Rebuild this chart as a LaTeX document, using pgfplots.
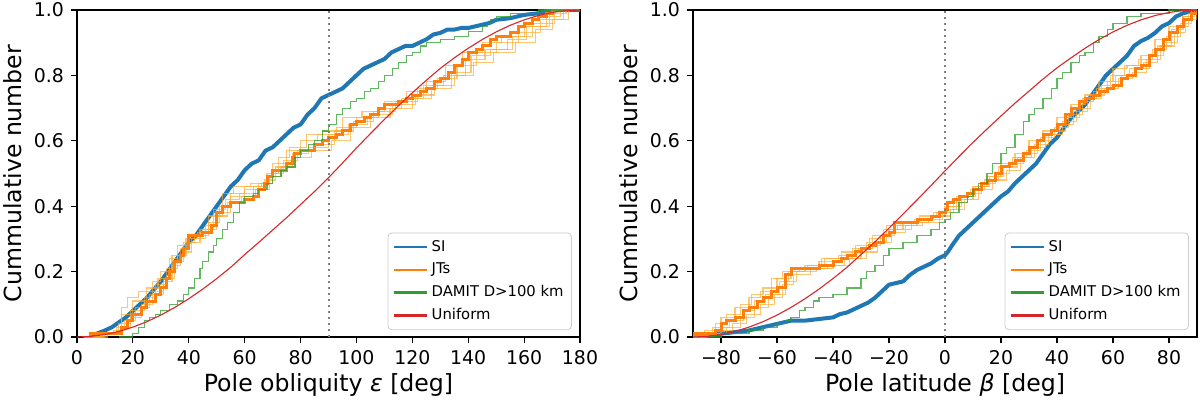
\documentclass[border=0pt]{standalone}
\usepackage{fontspec}
\setmainfont{DejaVu Sans}
\usepackage{pgfplots}
\pgfplotsset{compat=1.18}
\definecolor{tabblue}{HTML}{1F77B4}
\definecolor{taborange}{HTML}{FF7F0E}
\definecolor{thinorange}{HTML}{FFA726}
\definecolor{tabgreen}{HTML}{2CA02C}
\definecolor{tabred}{HTML}{D62728}
\pgfplotsset{
  cdf/.style={
    scale only axis, height=163.5pt,
    ymin=0, ymax=1,
    ytick={0,0.2,0.4,0.6,0.8,1}, yticklabels={0.0,0.2,0.4,0.6,0.8,1.0},
    xtick pos=lower, ytick pos=left,
    tick align=outside, major tick length=3pt,
    tick style={black, line width=0.6pt},
    axis line style={line width=0.6pt},
    ticklabel style={font=\fontsize{9.45}{11}\selectfont},
    xlabel style={font=\fontsize{11.8}{14}\selectfont, at={(axis description cs:0.5,-0.147)}, anchor=center},
    ylabel style={font=\fontsize{11.8}{14}\selectfont, at={(axis description cs:-0.127,0.5)}, anchor=center, rotate=0},
    ylabel={Cummulative number},
    legend cell align=left,
    legend style={at={(axis description cs:0.984,0.021)}, anchor=south east,
      draw=black!20, rounded corners=2pt, fill=white, fill opacity=0.8, text opacity=1,
      font=\fontsize{7.4}{9}\selectfont, row sep=1.2pt, inner xsep=2.5pt, inner ysep=2pt,
      nodes={inner sep=1.5pt, text height=5.6pt, text depth=1.6pt}},
    legend image code/.code={\draw[#1] (0pt,0pt) -- (16.5pt,0pt);},
  },
  si/.style={tabblue, line width=2pt, line join=round, forget plot},
  jt/.style={taborange, line width=1.5pt, const plot, forget plot},
  jtv/.style={thinorange, draw opacity=0.65, line width=0.55pt, const plot, forget plot},
  dam/.style={tabgreen, draw opacity=0.75, line width=0.55pt, const plot, forget plot},
  uni/.style={tabred, line width=0.55pt, forget plot},
  legentries/.code={
    \addlegendimage{tabblue, line width=1.35pt}\addlegendentry{SI}
    \addlegendimage{taborange, line width=1.35pt}\addlegendentry{JTs}
    \addlegendimage{tabgreen, line width=1.35pt}\addlegendentry{DAMIT D>100 km}
    \addlegendimage{tabred, line width=1.35pt}\addlegendentry{Uniform}
  },
}
\begin{document}
\begin{tikzpicture}
%% ---------------- left panel ----------------
\begin{axis}[cdf, at={(38.5pt,32.5pt)}, anchor=south west, width=251.5pt,
  xmin=0, xmax=180, xtick={0,20,40,60,80,100,120,140,160,180},
  xticklabels={0,20,40,60,80,100,120,140,160,180},
  xlabel={Pole obliquity \textit{ε} [deg]}]
\addlegendimage{tabblue, line width=1.35pt}\addlegendentry{SI}
\addlegendimage{taborange, line width=1.35pt}\addlegendentry{JTs}
\addlegendimage{tabgreen, line width=1.35pt}\addlegendentry{DAMIT D>100 km}
\addlegendimage{tabred, line width=1.35pt}\addlegendentry{Uniform}
\addplot[si] coordinates {(5,0) (7,0.01) (10,0.02) (12.5,0.03) (15,0.045) (17.5,0.06) (20,0.08) (22.5,0.10) (25,0.12) (27.5,0.145) (30,0.17) (32.5,0.20) (35,0.23) (37.5,0.26) (40,0.29) (42.5,0.31) (45,0.34) (47.5,0.37) (50,0.40) (52.5,0.43) (55,0.46) (57.5,0.48) (60,0.51) (62.5,0.53) (65,0.54) (67.5,0.57) (70,0.58) (72.5,0.60) (75,0.62) (77.5,0.64) (80,0.65) (82.5,0.68) (85,0.70) (87.5,0.73) (90,0.74) (92.5,0.75) (95,0.76) (97.5,0.78) (100,0.80) (102.5,0.82) (105,0.83) (107.5,0.84) (110,0.85) (112.5,0.87) (115,0.88) (117.5,0.89) (120,0.89) (122.5,0.90) (125,0.91) (127.5,0.925) (130,0.93) (132.5,0.94) (135,0.94) (137.5,0.945) (140,0.945) (142.5,0.95) (145,0.955) (147.5,0.96) (150,0.97) (155,0.975) (160,0.985) (165,0.99) (170,1.0) (180,1.0)};
\addplot[jtv] coordinates {(3,0) (8,0.01) (14,0.03) (16,0.09) (18,0.12) (22,0.14) (27,0.17) (30,0.20) (34,0.25) (38,0.29) (42,0.31) (47,0.37) (52,0.44) (56,0.46) (62,0.47) (68,0.50) (72,0.55) (76,0.58) (82,0.62) (88,0.63) (95,0.67) (102,0.69) (110,0.72) (118,0.75) (125,0.78) (132,0.83) (138,0.87) (145,0.90) (152,0.92) (160,0.95) (168,0.98) (173,1.0) (180,1.0)};
\addplot[jtv] coordinates {(4,0) (10,0.01) (15,0.02) (17,0.05) (21,0.09) (26,0.13) (31,0.17) (34,0.22) (37,0.27) (40,0.29) (44,0.33) (49,0.39) (53,0.42) (58,0.44) (63,0.46) (67,0.48) (71,0.52) (77,0.56) (83,0.58) (90,0.62) (97,0.65) (104,0.67) (112,0.70) (120,0.73) (127,0.76) (134,0.81) (141,0.86) (148,0.88) (156,0.92) (163,0.96) (171,1.0) (180,1.0)};
\addplot[jtv] coordinates {(2,0) (7,0.01) (13,0.02) (15,0.04) (19,0.08) (24,0.12) (28,0.16) (32,0.21) (36,0.25) (39,0.30) (43,0.32) (47,0.35) (51,0.40) (55,0.44) (60,0.45) (65,0.47) (70,0.50) (74,0.54) (79,0.57) (85,0.59) (92,0.63) (99,0.66) (106,0.69) (114,0.72) (122,0.76) (129,0.79) (136,0.83) (143,0.87) (150,0.90) (158,0.93) (166,0.97) (174,1.0) (180,1.0)};
\addplot[jtv] coordinates {(5,0) (11,0.01) (16,0.03) (19,0.06) (23,0.10) (27,0.14) (31,0.18) (35,0.23) (38,0.26) (41,0.30) (46,0.34) (50,0.37) (54,0.41) (59,0.43) (64,0.45) (69,0.49) (73,0.52) (78,0.55) (84,0.57) (91,0.60) (98,0.64) (105,0.68) (113,0.71) (121,0.74) (128,0.77) (135,0.80) (142,0.84) (149,0.87) (157,0.90) (164,0.94) (170,0.97) (176,1.0) (180,1.0)};
\addplot[jtv] coordinates {(3,0) (9,0.01) (14,0.02) (16,0.07) (20,0.11) (25,0.15) (29,0.18) (33,0.24) (36,0.28) (40,0.31) (45,0.33) (50,0.38) (55,0.43) (60,0.46) (66,0.47) (70,0.53) (75,0.57) (80,0.60) (86,0.62) (93,0.64) (100,0.67) (108,0.70) (116,0.73) (124,0.77) (131,0.80) (139,0.85) (146,0.88) (154,0.91) (161,0.95) (169,0.99) (175,1.0) (180,1.0)};
\addplot[jt] coordinates {(3,0) (5,0.01) (15,0.01) (16,0.03) (18,0.05) (20,0.07) (23,0.09) (25,0.11) (28,0.13) (30,0.15) (32,0.18) (33,0.20) (35,0.23) (37,0.25) (38,0.27) (40,0.31) (45,0.32) (48,0.34) (50,0.38) (52,0.40) (55,0.41) (60,0.42) (63,0.43) (65,0.45) (67,0.47) (68,0.49) (70,0.51) (75,0.53) (77,0.55) (78,0.56) (80,0.57) (85,0.59) (88,0.60) (90,0.61) (93,0.62) (95,0.63) (98,0.65) (100,0.66) (103,0.67) (105,0.68) (108,0.70) (110,0.71) (115,0.72) (118,0.73) (120,0.74) (123,0.75) (125,0.76) (128,0.78) (130,0.79) (133,0.81) (135,0.83) (138,0.85) (140,0.87) (143,0.88) (145,0.89) (148,0.91) (150,0.92) (155,0.93) (158,0.95) (160,0.96) (163,0.97) (165,0.98) (168,0.99) (170,1.0) (180,1.0)};
\addplot[dam] coordinates {(15,0) (20,0.01) (22,0.03) (24,0.05) (26,0.06) (28,0.07) (30,0.08) (33,0.10) (36,0.11) (38,0.13) (40,0.15) (42,0.18) (44,0.21) (45,0.23) (47,0.26) (49,0.28) (50,0.30) (52,0.33) (54,0.35) (56,0.38) (58,0.41) (60,0.43) (63,0.44) (65,0.45) (68,0.47) (70,0.49) (73,0.51) (75,0.52) (78,0.55) (80,0.57) (83,0.59) (85,0.60) (88,0.63) (90,0.65) (93,0.68) (95,0.70) (98,0.72) (100,0.73) (103,0.75) (105,0.76) (108,0.78) (110,0.80) (113,0.82) (115,0.84) (118,0.86) (120,0.87) (123,0.89) (125,0.90) (130,0.91) (135,0.92) (140,0.935) (145,0.95) (147,0.96) (148,0.97) (150,0.98) (155,0.99) (165,1.0) (180,1.0)};
\addplot[uni] coordinates {(0,0) (5,0.0019) (10,0.0076) (15,0.0170) (20,0.0302) (25,0.0468) (30,0.0670) (35,0.0904) (40,0.1170) (45,0.1464) (50,0.1786) (55,0.2132) (60,0.252) (65,0.289) (70,0.327) (75,0.365) (80,0.405) (85,0.445) (90,0.487) (95,0.532) (100,0.578) (105,0.622) (110,0.665) (115,0.707) (120,0.747) (125,0.785) (130,0.8214) (135,0.8536) (140,0.8830) (145,0.9096) (150,0.9330) (155,0.9532) (160,0.9698) (165,0.9830) (170,0.9924) (175,0.9981) (180,1)};
\addplot[gray, line width=1pt, dash pattern=on 1pt off 2pt, forget plot] coordinates {(90,0) (90,1)};
\end{axis}
%% ---------------- right panel ----------------
\begin{axis}[cdf, at={(346.5pt,32.5pt)}, anchor=south west, width=252pt,
  xmin=-90, xmax=90, xtick={-80,-60,-40,-20,0,20,40,60,80},
  xticklabels={−80,−60,−40,−20,0,20,40,60,80},
  xlabel={Pole latitude \textit{β} [deg]}]
\addlegendimage{tabblue, line width=1.35pt}\addlegendentry{SI}
\addlegendimage{taborange, line width=1.35pt}\addlegendentry{JTs}
\addlegendimage{tabgreen, line width=1.35pt}\addlegendentry{DAMIT D>100 km}
\addlegendimage{tabred, line width=1.35pt}\addlegendentry{Uniform}
\addplot[si] coordinates {(-90,0) (-85,0.005) (-80,0.01) (-75,0.015) (-70,0.02) (-65,0.03) (-60,0.04) (-55,0.05) (-50,0.05) (-45,0.055) (-40,0.06) (-37.5,0.07) (-35,0.075) (-32.5,0.085) (-30,0.095) (-27.5,0.105) (-25,0.12) (-22.5,0.14) (-20,0.16) (-17.5,0.165) (-15,0.17) (-12.5,0.19) (-10,0.205) (-7.5,0.215) (-5,0.225) (-2.5,0.24) (0,0.25) (1,0.26) (2.5,0.28) (5,0.31) (7.5,0.33) (10,0.35) (12.5,0.37) (15,0.39) (17.5,0.41) (20,0.43) (22.5,0.445) (25,0.47) (27.5,0.49) (30,0.51) (32.5,0.53) (35,0.56) (37.5,0.59) (40,0.61) (42.5,0.64) (45,0.67) (47.5,0.69) (50,0.71) (52.5,0.74) (55,0.77) (57.5,0.80) (60,0.82) (62.5,0.84) (65,0.86) (67.5,0.89) (70,0.905) (72.5,0.915) (75,0.93) (77.5,0.95) (80,0.96) (82.5,0.98) (85,0.99) (90,1.0)};
\addplot[jtv] coordinates {(-90,0.01) (-86,0.02) (-80,0.06) (-75,0.09) (-70,0.12) (-66,0.14) (-62,0.18) (-58,0.20) (-52,0.21) (-45,0.23) (-38,0.25) (-32,0.28) (-27,0.30) (-22,0.33) (-17,0.34) (-10,0.36) (-4,0.38) (0,0.40) (5,0.42) (10,0.46) (15,0.49) (20,0.53) (25,0.56) (30,0.60) (35,0.63) (40,0.67) (45,0.71) (50,0.74) (55,0.78) (60,0.82) (65,0.83) (70,0.86) (75,0.91) (80,0.95) (85,0.98) (88,1.0) (90,1.0)};
\addplot[jtv] coordinates {(-90,0.005) (-84,0.01) (-78,0.03) (-73,0.06) (-68,0.09) (-63,0.12) (-58,0.16) (-54,0.19) (-48,0.21) (-42,0.22) (-36,0.24) (-30,0.26) (-24,0.29) (-19,0.32) (-14,0.34) (-8,0.35) (-2,0.37) (2,0.39) (7,0.42) (12,0.45) (17,0.48) (22,0.51) (27,0.55) (32,0.59) (37,0.62) (42,0.66) (47,0.70) (52,0.74) (57,0.76) (62,0.79) (67,0.81) (72,0.85) (77,0.89) (82,0.93) (86,0.97) (90,1.0)};
\addplot[jtv] coordinates {(-90,0.01) (-83,0.03) (-77,0.05) (-72,0.08) (-68,0.11) (-64,0.13) (-59,0.17) (-56,0.20) (-50,0.22) (-43,0.24) (-37,0.26) (-31,0.27) (-26,0.31) (-20,0.33) (-15,0.35) (-9,0.37) (-3,0.38) (1,0.40) (6,0.43) (11,0.46) (16,0.49) (21,0.52) (26,0.55) (31,0.58) (36,0.62) (41,0.65) (46,0.69) (51,0.73) (56,0.77) (61,0.80) (66,0.82) (71,0.84) (76,0.89) (81,0.94) (85,0.98) (89,1.0) (90,1.0)};
\addplot[jtv] coordinates {(-90,0.0) (-85,0.01) (-80,0.02) (-76,0.04) (-71,0.07) (-66,0.10) (-61,0.13) (-57,0.17) (-53,0.20) (-46,0.21) (-40,0.22) (-34,0.24) (-28,0.28) (-23,0.31) (-18,0.33) (-12,0.35) (-6,0.36) (-1,0.38) (3,0.41) (8,0.44) (13,0.47) (18,0.50) (23,0.53) (28,0.56) (33,0.60) (38,0.63) (43,0.67) (48,0.72) (53,0.75) (58,0.78) (63,0.80) (68,0.82) (73,0.86) (78,0.90) (83,0.95) (87,0.99) (90,1.0)};
\addplot[jtv] coordinates {(-90,0.015) (-82,0.04) (-78,0.07) (-73,0.10) (-69,0.13) (-65,0.15) (-60,0.18) (-55,0.21) (-49,0.22) (-44,0.24) (-39,0.24) (-33,0.27) (-28,0.29) (-21,0.34) (-16,0.35) (-11,0.36) (-5,0.37) (0,0.39) (4,0.43) (9,0.45) (14,0.48) (19,0.52) (24,0.55) (29,0.57) (34,0.61) (39,0.64) (44,0.68) (49,0.73) (54,0.76) (59,0.80) (64,0.83) (69,0.85) (74,0.88) (79,0.92) (84,0.96) (88,1.0) (90,1.0)};
\addplot[jt] coordinates {(-90,0.01) (-85,0.01) (-82,0.02) (-80,0.04) (-78,0.05) (-75,0.06) (-72,0.08) (-70,0.09) (-67,0.11) (-65,0.12) (-62,0.14) (-60,0.15) (-57,0.19) (-55,0.21) (-50,0.21) (-45,0.22) (-40,0.23) (-37,0.24) (-35,0.25) (-32,0.26) (-30,0.27) (-27,0.28) (-25,0.29) (-22,0.31) (-20,0.32) (-18,0.35) (-10,0.36) (-5,0.37) (-2,0.38) (0,0.39) (1,0.41) (3,0.42) (5,0.43) (8,0.44) (10,0.45) (13,0.47) (15,0.48) (18,0.50) (20,0.52) (23,0.53) (25,0.54) (28,0.56) (30,0.58) (33,0.60) (35,0.62) (38,0.63) (40,0.65) (43,0.68) (45,0.70) (48,0.72) (50,0.73) (53,0.74) (55,0.75) (58,0.76) (60,0.77) (63,0.79) (65,0.80) (68,0.82) (70,0.83) (73,0.86) (75,0.88) (78,0.91) (80,0.93) (83,0.95) (85,0.97) (88,0.99) (90,1.0)};
\addplot[dam] coordinates {(-85,0) (-80,0.01) (-70,0.02) (-65,0.03) (-60,0.04) (-57,0.05) (-55,0.06) (-52,0.08) (-50,0.09) (-47,0.11) (-45,0.12) (-40,0.13) (-35,0.15) (-30,0.18) (-28,0.20) (-25,0.22) (-22,0.25) (-20,0.27) (-15,0.29) (-10,0.31) (-5,0.33) (-2,0.35) (0,0.36) (2,0.38) (5,0.41) (8,0.43) (10,0.45) (12,0.47) (15,0.50) (17,0.53) (20,0.56) (22,0.58) (25,0.62) (28,0.66) (30,0.68) (32,0.70) (35,0.73) (38,0.76) (40,0.79) (42,0.81) (45,0.84) (48,0.86) (50,0.87) (53,0.90) (55,0.92) (58,0.94) (60,0.96) (65,0.98) (70,0.99) (80,1.0) (90,1.0)};
\addplot[uni] coordinates {(-90,0) (-85,0.0019) (-80,0.0076) (-75,0.0170) (-70,0.0302) (-65,0.0468) (-60,0.0670) (-55,0.0904) (-50,0.1170) (-45,0.1464) (-40,0.1786) (-35,0.2132) (-30,0.252) (-25,0.291) (-20,0.333) (-15,0.376) (-10,0.419) (-5,0.463) (0,0.508) (5,0.552) (10,0.595) (15,0.636) (20,0.676) (25,0.715) (30,0.752) (35,0.789) (40,0.823) (45,0.8536) (50,0.8830) (55,0.9096) (60,0.9330) (65,0.9532) (70,0.9698) (75,0.9830) (80,0.9924) (85,0.9981) (90,1)};
\addplot[gray, line width=1pt, dash pattern=on 1pt off 2pt, forget plot] coordinates {(0,0) (0,1)};
\end{axis}
\pgfresetboundingbox
\useasboundingbox (0,0) rectangle (600pt,201pt);
\end{tikzpicture}
\end{document}
